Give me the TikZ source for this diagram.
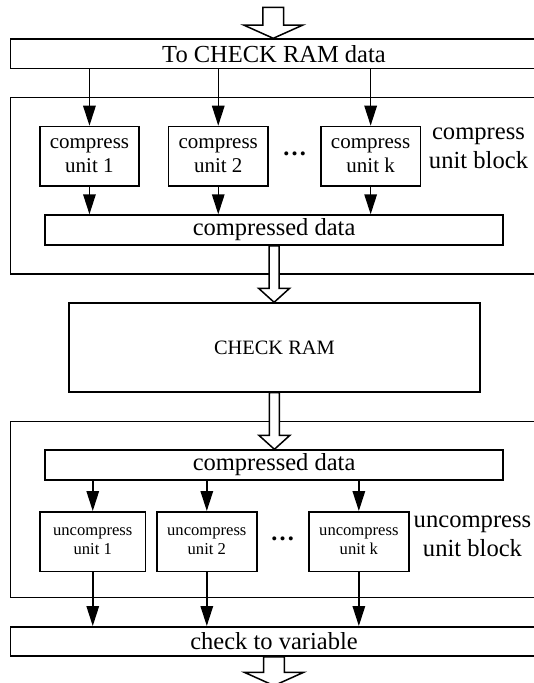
\documentclass[tikz,border=0pt]{standalone}
\usepackage{fontspec}
\setmainfont{Liberation Serif}
\usetikzlibrary{arrows.meta,calc}
\newcommand\hollowarr[5]{% from, to, shaft half width, head half width, head length
  \draw[fill=white, line width=1.5pt, line join=miter] let \p1=(#1), \p2=(#2) in
    (\x1-#3pt,\y1) -- (\x1-#3pt,\y2+#5pt) -- (\x1-#4pt,\y2+#5pt) -- (\x1,\y2)
    -- (\x1+#4pt,\y2+#5pt) -- (\x1+#3pt,\y2+#5pt) -- (\x1+#3pt,\y1) -- cycle;}
\begin{document}
\begin{tikzpicture}[x=1pt,y=-1pt,
  box/.style={draw, line width=1.5pt, inner sep=0pt, anchor=north west, align=center},
  arr/.style={-{Triangle[length=20pt,width=12.5pt]}, line width=1.5pt},
  big/.style={font=\fontsize{24.5}{30}\selectfont},
  mid/.style={font=\fontsize{21}{24}\selectfont},
  small/.style={font=\fontsize{16.6}{19}\selectfont},
  chk/.style={font=\fontsize{20.4}{24}\selectfont},
  lbl/.style={align=center, inner sep=0pt, font=\fontsize{24.6}{29}\selectfont},
  dotsn/.style={inner sep=0pt, anchor=base, font=\fontsize{24.5}{30}\selectfont\bfseries}
]
\clip (0,0) rectangle (534,683);
\fill[white] (0,0) rectangle (534,683);

% ---------- top ----------
\coordinate (in) at (273.25,7.3);
\node[box, big, minimum width=527.5pt, minimum height=29.4pt] (topbox) at (9.5,38.3) {To CHECK RAM data};

% compress block
\node[box, minimum width=527.5pt, minimum height=176.6pt] (cblock) at (9.5,96.7) {};
\node[box, mid, minimum width=99pt, minimum height=59.3pt] (cu1) at (39.2,125.7) {compress\\unit 1};
\node[box, mid, minimum width=99.8pt, minimum height=59.3pt] (cu2) at (167.6,125.7) {compress\\unit 2};
\node[box, mid, minimum width=99.4pt, minimum height=59.3pt] (cuk) at (320.2,125.7) {compress\\unit k};
\node[dotsn] (cdots) at (294.6,155.2) {\ldots};
\node[lbl] (clabel) at (478.5,148.5) {compress\\unit block};
\node[box, big, minimum width=458.1pt, minimum height=30pt] (cdata) at (44.3,214.3) {compressed data};

\foreach \u in {cu1,cu2,cuk}{
  \draw[arr] (\u.north |- topbox.south) -- (\u.north);
  \draw[arr] (\u.south) -- (\u.south |- cdata.north);
}

% CHECK RAM
\node[box, chk, minimum width=411.1pt, minimum height=88.7pt] (ram) at (68.1,302.3) {CHECK RAM};

% uncompress block
\node[box, minimum width=527.5pt, minimum height=176.2pt] (ublock) at (9.5,420.5) {};
\node[box, big, minimum width=458.1pt, minimum height=30pt] (udata) at (44.3,449.3) {compressed data};
\node[box, small, minimum width=105.6pt, minimum height=59.7pt] (uu1) at (39.2,511) {uncompress\\unit 1};
\node[box, small, minimum width=100.1pt, minimum height=59.7pt] (uu2) at (156,511) {uncompress\\unit 2};
\node[box, small, minimum width=99.8pt, minimum height=59.7pt] (uuk) at (308.2,511) {uncompress\\unit k};
\node[dotsn] (udots) at (282.7,540.5) {\ldots};
\node[lbl] (ulabel) at (472.5,536.5) {uncompress\\unit block};

\node[box, big, minimum width=527.5pt, minimum height=29.3pt] (c2v) at (9.5,626) {check to variable};
\coordinate (out) at (273.25,685.6);

\foreach \u in {uu1,uu2,uuk}{
  \draw[arr] (\u.north |- udata.south) -- (\u.north);
  \draw[arr] (\u.south) -- (\u.south |- c2v.north);
}

% hollow arrows
\hollowarr{in}{topbox.north}{10.3}{29.7}{13.3}
\hollowarr{cdata.south}{ram.north}{5}{15.5}{14}
\hollowarr{ram.south}{udata.north}{5}{15.5}{14}
\hollowarr{c2v.south}{out}{10.3}{29.7}{13.3}
\end{tikzpicture}
\end{document}
